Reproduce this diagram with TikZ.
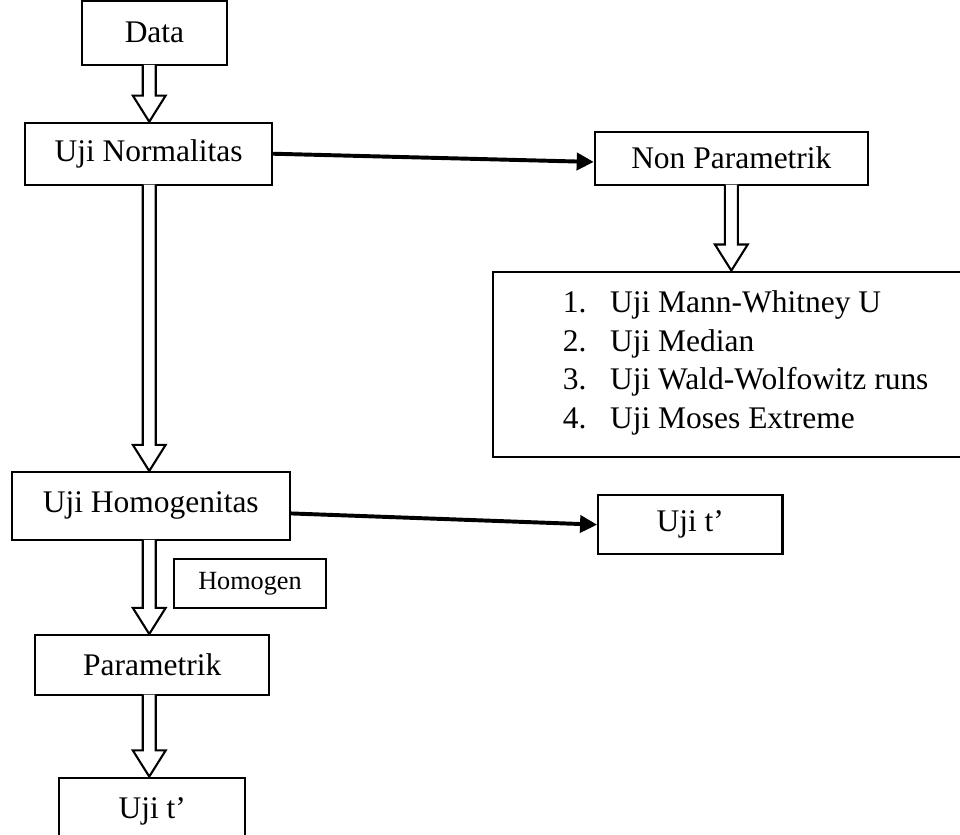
\documentclass[tikz,border=0pt]{standalone}
\usepackage{fontspec}
\setmainfont{Liberation Serif}
\usetikzlibrary{arrows.meta,positioning,calc}

\begin{document}
\begin{tikzpicture}[x=1cm,y=1cm,
  box/.style={draw,line width=0.8pt,inner sep=0pt,align=center,font=\fontsize{12}{14.7}\selectfont},
  arr/.style={-{Triangle[length=6.5pt,width=6.5pt]},line width=1.5pt},
  hollow/.style={draw,fill=white,line width=0.8pt,
    to path={let \p1=(\tikztostart),\p2=(\tikztotarget) in
      (\x1-0.087cm,\y1+0.45pt) -- (\x1-0.087cm,\y2+0.35cm) -- (\x1-0.22cm,\y2+0.35cm) -- (\x1,\y2)
      -- (\x1+0.22cm,\y2+0.35cm) -- (\x1+0.087cm,\y2+0.35cm) -- (\x1+0.087cm,\y1+0.45pt)}}]
  \useasboundingbox (0,0) rectangle (12.864,-11.176);
  \coordinate (colL) at (2.0,0);
  \coordinate (colR) at (9.8,0);
  \node[box,minimum width=1.94cm,minimum height=0.86cm] (data) at (2.07,-0.44) {Data};
  \node[box,minimum width=3.31cm,minimum height=0.83cm] (norm) at (1.99,-2.06) {Uji Normalitas};
  \node[box,minimum width=3.66cm,minimum height=0.71cm] (nonpar) at (9.80,-2.12) {Non Parametrik};
  \node[box,minimum width=6.34cm,minimum height=2.48cm] (list) at (9.78,-4.88) {};
  \node[anchor=west,inner sep=0pt,font=\fontsize{12}{14.7}\selectfont] (items) at ([xshift=0.94cm,yshift=0.02cm]list.west)
    {\begin{tabular}{@{}l@{\hspace{9pt}}l@{}}
      1. & Uji Mann-Whitney U\\
      2. & Uji Median\\
      3. & Uji Wald-Wolfowitz runs\\
      4. & Uji Moses Extreme
    \end{tabular}};
  \node[box,minimum width=3.73cm,minimum height=0.91cm] (hom) at (2.02,-6.78) {Uji Homogenitas};
  \node[box,minimum width=2.47cm,minimum height=0.79cm] (ujia) at (9.25,-7.03) {Uji t’};
  \node[box,minimum width=2.04cm,minimum height=0.66cm,font=\fontsize{10}{12}\selectfont] (homog) at (3.35,-7.82) {Homogen};
  \node[box,minimum width=3.14cm,minimum height=0.80cm] (param) at (2.04,-8.91) {Parametrik};
  \node[box,minimum width=2.49cm,minimum height=0.90cm] (ujib) at (2.04,-10.87) {Uji t’};
  \foreach \s/\t in {data/norm,norm/hom,hom/param,param/ujib}{\draw[hollow] (\s.south -| colL) to (\t.north -| colL);}
  \draw[hollow] (nonpar.south -| colR) to (list.north -| colR);
  \draw[arr] (norm.east) -- ([yshift=-0.05cm]nonpar.west);
  \draw[arr] ([yshift=-0.1cm]hom.east) -- (ujia.west);
\end{tikzpicture}
\end{document}
